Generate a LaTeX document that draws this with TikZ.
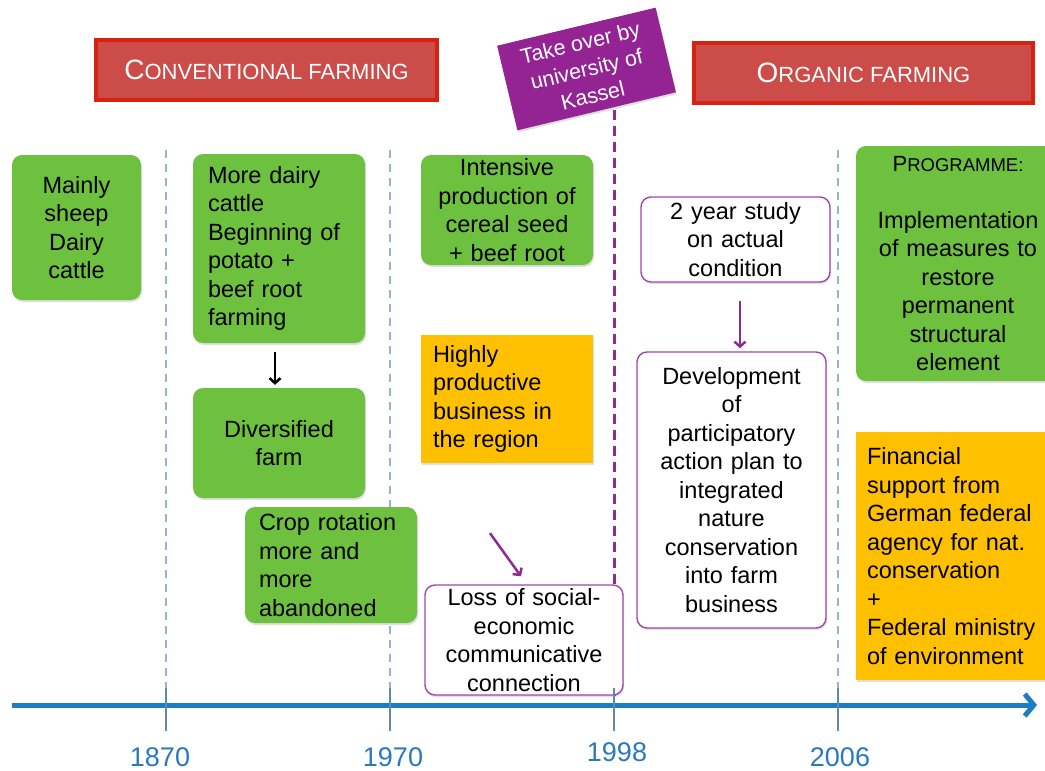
\documentclass[tikz,border=0pt]{standalone}
\usepackage{fontspec}
\setmainfont{Liberation Sans}
\usetikzlibrary{shadows,arrows.meta,calc}
\definecolor{boxgreen}{RGB}{110,193,62}
\definecolor{boxorange}{RGB}{255,192,0}
\definecolor{hdrfill}{RGB}{203,76,72}
\definecolor{hdrline}{RGB}{214,34,16}
\definecolor{kasselpurple}{RGB}{148,36,148}
\definecolor{lilac}{RGB}{160,70,170}
\definecolor{arrowpurple}{RGB}{140,44,146}
\definecolor{axisblue}{RGB}{27,125,196}
\definecolor{tickblue}{RGB}{95,135,180}
\definecolor{dashblue}{RGB}{150,180,215}
\definecolor{yearblue}{RGB}{42,120,192}
\begin{document}
\begin{tikzpicture}[x=1pt,y=-1pt,
  softshadow/.style={drop shadow={opacity=0.25,shadow xshift=1pt,shadow yshift=-2pt}},
  box/.style={inner ysep=0pt, font=\fontsize{23.5}{28.5}\selectfont, text=black, softshadow},
  greenbox/.style={box, fill=boxgreen, rounded corners=10pt},
  orangebox/.style={box, fill=boxorange},
  whitebox/.style={box, fill=white, draw=lilac, line width=1.4pt, rounded corners=10pt},
  header/.style={fill=hdrfill, draw=hdrline, line width=3.5pt, text=white, softshadow, inner sep=0pt},
  vdash/.style={dashblue, line width=2pt, dash pattern=on 8pt off 6pt},
  kdash/.style={arrowpurple, line width=3pt, dash pattern=on 10pt off 6pt},
  tick/.style={tickblue, line width=1.5pt},
  year/.style={text=yearblue, font=\fontsize{27}{27}\selectfont},
  blackarrow/.style={black, line width=2.5pt, -{Straight Barb[length=5pt,width=11pt]}},
  purplearrow/.style={arrowpurple, line width=2.5pt, -{Straight Barb[length=5pt,width=11pt]}}
]
\useasboundingbox (0,0) rectangle (1045,771);
\fill[white] (0,0) rectangle (1045,771);

% dashed period separators
\draw[vdash] (166,150) -- (166,690);
\draw[vdash] (390,150) -- (390,690);
\draw[vdash] (838,150) -- (838,690);

% headers
\node[header, minimum width=341, minimum height=60] (conv) at (266.5,70)
  {\fontsize{28}{28}\selectfont C\fontsize{22}{22}\selectfont ONVENTIONAL FARMING};
\node[header, minimum width=339, minimum height=60] (org) at (863.5,73)
  {\fontsize{28}{28}\selectfont O\fontsize{22}{22}\selectfont RGANIC FARMING};

% Kassel dashed line and label
\draw[kdash] (614,110) -- (614,700);
\node[fill=kasselpurple, text=white, rotate=13.5, minimum width=163, minimum height=87,
      inner sep=0pt, align=center, font=\fontsize{21.5}{27}\selectfont, softshadow] (kassel) at (586.5,69)
  {Take over by\\university of\\Kassel};

% boxes
\node[greenbox, minimum width=129, minimum height=145, text width=111, align=center] (mainly) at (76.5,227.5)
  {Mainly\\sheep\\Dairy\\cattle};
\node[greenbox, minimum width=172, minimum height=189, inner xsep=15pt, text width=142, align=left] (more) at (279,248.5)
  {More dairy\\cattle\\Beginning of\\potato +\\beef root\\farming};
\node[greenbox, minimum width=172, minimum height=110, text width=150, align=center] (div) at (279,443)
  {Diversified\\farm};
\node[greenbox, minimum width=172, minimum height=116, inner xsep=14pt, text width=144, align=left] (crop) at (331,565)
  {Crop rotation\\more and\\more\\abandoned};
\node[greenbox, minimum width=172, minimum height=110, text width=160, align=center] (intens) at (507,210)
  {Intensive\\production of\\cereal seed\\+ beef root};
\node[orangebox, minimum width=172, minimum height=128, inner xsep=12pt, text width=148, align=left] (highly) at (507,399)
  {Highly\\productive\\business in\\the region};
\node[whitebox, minimum width=198, minimum height=110, text width=180, align=center] (loss) at (524,640)
  {Loss of social-\\economic\\communicative\\connection};
\node[whitebox, minimum width=189, minimum height=85, text width=170, align=center] (study) at (735.5,239.5)
  {2 year study\\on actual\\condition};
\node[whitebox, minimum width=189, minimum height=276, text width=170, align=center] (dev) at (731.5,490)
  {Development\\of\\participatory\\action plan to\\integrated\\nature\\conservation\\into farm\\business};
\node[greenbox, minimum width=204, minimum height=235, text width=186, align=center] (prog) at (958,263.5)
  {\fontsize{22}{28.5}\selectfont P\fontsize{18.5}{28.5}\selectfont ROGRAMME:\\[28.5pt]
   \fontsize{23.5}{28.5}\selectfont Implementation\\of measures to\\restore\\permanent\\structural\\element};
\node[orangebox, minimum width=204, minimum height=248, inner xsep=11pt, text width=182, align=left] (fin) at (958,556)
  {Financial\\support from\\German federal\\agency for nat.\\conservation\\+\\Federal ministry\\of environment};

% connectors
\draw[blackarrow] ([xshift=-4pt,yshift=-9pt]more.south) -- ([xshift=-4pt,yshift=3pt]div.north);
\draw[purplearrow] ([xshift=-17pt,yshift=-70pt]highly.south) -- ([xshift=-3pt,yshift=8pt]loss.north);
\draw[purplearrow] ([xshift=4.5pt,yshift=-18pt]study.south) -- ([xshift=8.5pt,yshift=3pt]dev.north);

% timeline
\draw[axisblue, line width=5pt, -{Straight Barb[length=9pt,width=22pt]}] (12,705) -- (1037,705);
\foreach \x in {166,390,614,838} \draw[tick] (\x,688) -- (\x,731);
\node[year] (y1870) at (160,757) {1870};
\node[year] (y1970) at (393,757) {1970};
\node[year] (y1998) at (617,752) {1998};
\node[year] (y2006) at (840,757) {2006};
\end{tikzpicture}
\end{document}
